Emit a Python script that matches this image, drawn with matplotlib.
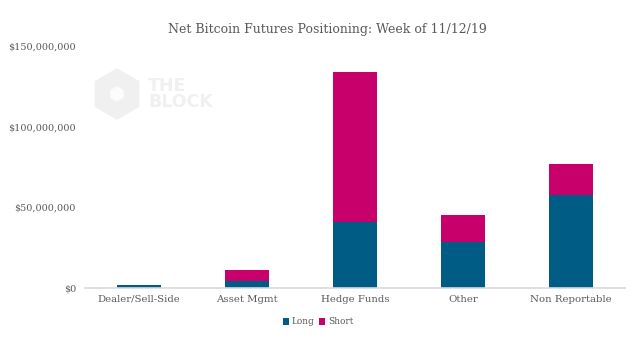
import matplotlib.pyplot as plt
from matplotlib.patches import Polygon
import numpy as np

# Net futures positioning by trader category (USD)
categories = ['Dealer/Sell-Side', 'Asset Mgmt', 'Hedge Funds', 'Other', 'Non Reportable']
long_vals = [1_900_000, 4_300_000, 40_900_000, 28_500_000, 57_700_000]
short_vals = [0, 6_900_000, 93_000_000, 16_800_000, 19_200_000]
yticks = [0, 50_000_000, 100_000_000, 150_000_000]
ytick_labels = ['$0', '$50,000,000', '$100,000,000', '$150,000,000']

long_color = '#005b85'
short_color = '#c8006b'
text_color = '#595959'

plt.rcParams['font.family'] = ['DejaVu Serif']

W, H = 640, 340
fig = plt.figure(figsize=(W / 100, H / 100), dpi=100)
ax = fig.add_axes([85 / W, 52 / H, 540 / W, 242 / H])


def hexagon(cx, cy, r, color):
    # pointy-top hexagon given in pixel units, placed in figure fractions
    ang = np.deg2rad(90 + 60 * np.arange(6))
    pts = np.column_stack([(cx + r * np.cos(ang)) / W, 1 - (cy - r * np.sin(ang)) / H])
    fig.patches.append(Polygon(pts, closed=True, transform=fig.transFigure,
                               color=color, zorder=0))


# watermark logo
hexagon(117, 94, 25, '#f0f0f0')
hexagon(117, 94, 7, '#fcfcfc')
fig.text(148 / W, 1 - 94 / H, 'THE\nBLOCK', family='DejaVu Sans', weight='bold',
         fontsize=12.5, color='#f0f0f0', va='center', ha='left', linespacing=0.9, zorder=0)

x = np.arange(len(categories))
ax.bar(x, long_vals, width=0.4, color=long_color, label='Long')
ax.bar(x, short_vals, width=0.4, bottom=long_vals, color=short_color, label='Short')

ax.set_xlim(-0.5, len(categories) - 0.5)
ax.set_ylim(0, 150_000_000)
ax.set_xticks(x)
ax.set_xticklabels(categories, fontsize=7.3, color=text_color)
ax.set_yticks(yticks)
ax.set_yticklabels(ytick_labels, fontsize=6.9, color=text_color)
ax.tick_params(axis='both', length=0)
ax.tick_params(axis='y', pad=6.5)
ax.tick_params(axis='x', pad=5)

for side in ['top', 'right', 'left']:
    ax.spines[side].set_visible(False)
ax.spines['bottom'].set_color('#d9d9d9')
ax.spines['bottom'].set_linewidth(1.2)
ax.patch.set_alpha(0)

fig.text(327.5 / W, 1 - 30 / H, 'Net Bitcoin Futures Positioning: Week of 11/12/19',
         ha='center', va='center', fontsize=9, color=text_color)

ax.legend(loc='center', bbox_to_anchor=(318 / W, 1 - 322 / H),
          bbox_transform=fig.transFigure, ncol=2, frameon=False, fontsize=6.4,
          handlelength=0.7, handleheight=0.7, handletextpad=0.3, columnspacing=0.5,
          labelcolor=text_color)

fig.savefig('out.png', dpi=100)
